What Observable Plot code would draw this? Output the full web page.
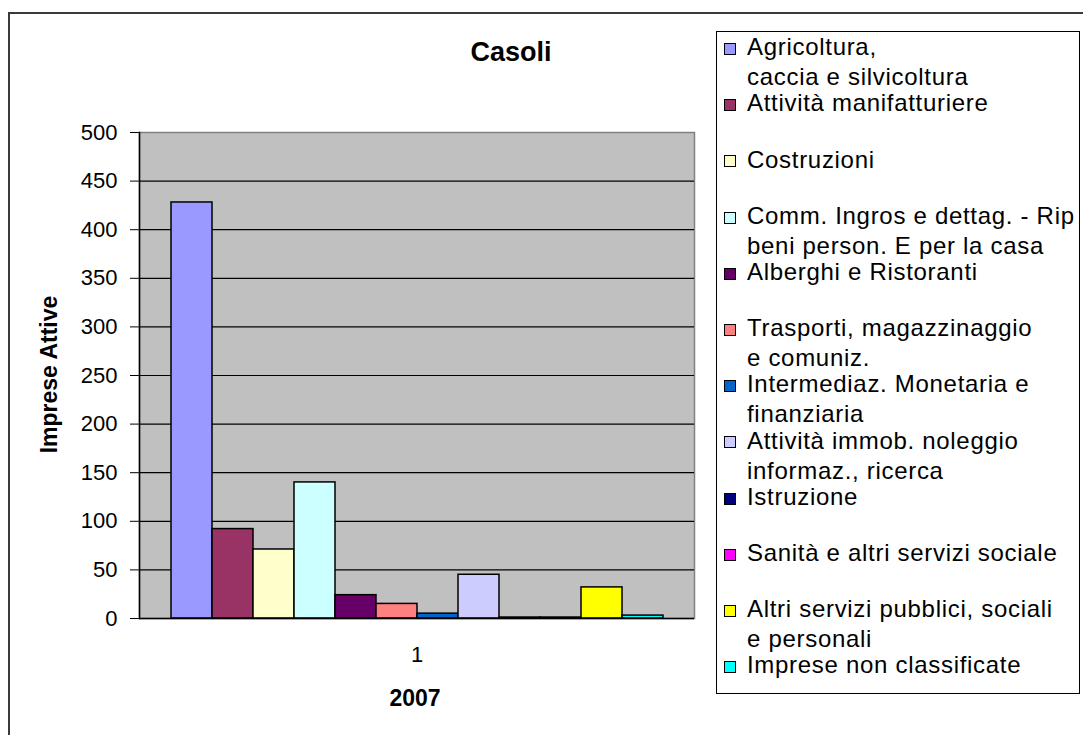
<!DOCTYPE html>
<html>
<head>
<meta charset="utf-8">
<script src="https://cdn.jsdelivr.net/npm/d3@7"></script>
<script src="https://cdn.jsdelivr.net/npm/@observablehq/plot@0.6"></script>
<style>
  html, body { margin: 0; padding: 0; background: #fff; overflow: hidden; }
  #page { position: relative; width: 1083px; height: 735px; overflow: hidden;
          font-family: "Liberation Sans", Arial, sans-serif; color: #000; }
  #page svg { position: absolute; left: 0; top: 0; }
  .abs { position: absolute; white-space: pre; }
</style>
</head>
<body>
<div id="page"></div>
<script>
// ---- data ----
const title = "Casoli";
const yTitle = "Imprese Attive";
const xTitle = "2007";
const years = ["1"];
const categories = [
  "Agricoltura, caccia e silvicoltura",
  "Attività manifatturiere",
  "Costruzioni",
  "Comm. Ingros e dettag. - Rip beni person. E per la casa",
  "Alberghi e Ristoranti",
  "Trasporti, magazzinaggio e comuniz.",
  "Intermediaz. Monetaria e finanziaria",
  "Attività immob. noleggio informaz., ricerca",
  "Istruzione",
  "Sanità e altri servizi sociale",
  "Altri servizi pubblici, sociali e personali",
  "Imprese non classificate"
];
const legendLabels = [
  "Agricoltura,\ncaccia e silvicoltura",
  "Attività manifatturiere",
  "Costruzioni",
  "Comm. Ingros e dettag. - Rip\nbeni person. E per la casa",
  "Alberghi e Ristoranti",
  "Trasporti, magazzinaggio\ne comuniz.",
  "Intermediaz. Monetaria e\nfinanziaria",
  "Attività immob. noleggio\ninformaz., ricerca",
  "Istruzione",
  "Sanità e altri servizi sociale",
  "Altri servizi pubblici, sociali\ne personali",
  "Imprese non classificate"
];
const values = [428, 92, 71, 140, 24, 15, 5, 45, 1, 1, 32, 3];
const colors = ["#9999FF", "#993366", "#FFFFCC", "#CCFFFF", "#660066", "#FF8080",
                "#0066CC", "#CCCCFF", "#000080", "#FF00FF", "#FFFF00", "#00FFFF"];
const yTicks = [0, 50, 100, 150, 200, 250, 300, 350, 400, 450, 500];

const data = categories.map((c, i) => ({year: years[0], category: c, value: values[i]}));

// ---- layout ----
const W = 1083, H = 735;
const plotL = 139, plotR = 694, plotT = 132, plotB = 618;

const page = document.getElementById("page");

// outer chart frame
const outer = document.createElement("div");
outer.className = "abs";
Object.assign(outer.style, {left: "8px", top: "12px", width: "1200px", height: "900px",
  border: "2px solid #3a3a3a", boxSizing: "border-box"});
page.appendChild(outer);

const chart = Plot.plot({
  width: W, height: H,
  marginLeft: plotL, marginRight: W - plotR, marginTop: plotT, marginBottom: H - plotB,
  style: {fontFamily: "'Liberation Sans', Arial, sans-serif", fontSize: "22px", background: "transparent", color: "#000"},
  fx: {domain: years, padding: 0, axis: "bottom", label: null, tickSize: 0, tickPadding: 28},
  x: {domain: categories, paddingInner: 0, paddingOuter: 0.75, axis: null},
  y: {domain: [0, 500], ticks: yTicks, tickSize: 9, tickPadding: 13, label: null},
  color: {domain: categories, range: colors},
  marks: [
    Plot.frame({fill: "#C0C0C0", stroke: "#808080", strokeWidth: 1.5}),
    Plot.ruleY(yTicks.filter(d => d > 0 && d < 500), {stroke: "#000", strokeWidth: 1.2}),
    Plot.barY(data, {fx: "year", x: "category", y: "value", fill: "category", stroke: "#000", strokeWidth: 1.5}),
    Plot.frame({anchor: "left", stroke: "#000", strokeWidth: 1.5}),
    Plot.ruleY([0], {stroke: "#000", strokeWidth: 1.5})
  ]
});
page.appendChild(chart);

// helper for text placed by baseline
function place(text, {x, baseline, size, weight = "normal", anchor = "middle"}) {
  const d = document.createElement("div");
  d.className = "abs";
  d.textContent = text;
  const top = baseline - 0.8465 * size;
  Object.assign(d.style, {fontSize: size + "px", fontWeight: weight, lineHeight: size + "px", top: top + "px"});
  if (anchor === "middle") {
    Object.assign(d.style, {left: (x - 300) + "px", width: "600px", textAlign: "center"});
  } else {
    d.style.left = x + "px";
  }
  page.appendChild(d);
  return d;
}

place(title, {x: 511, baseline: 62, size: 27, weight: "bold"});
place(xTitle, {x: 415, baseline: 706, size: 23, weight: "bold"});

// rotated y title
const yt = document.createElement("div");
yt.className = "abs";
yt.textContent = yTitle;
Object.assign(yt.style, {left: (49 - 150) + "px", top: (374 - 11.5) + "px", width: "300px", height: "23px",
  lineHeight: "23px", fontSize: "23px", fontWeight: "bold", textAlign: "center",
  transform: "rotate(-90deg)", transformOrigin: "50% 50%"});
page.appendChild(yt);

// legend
const lg = document.createElement("div");
lg.className = "abs";
Object.assign(lg.style, {left: "716px", top: "31px", width: "364px", height: "663px",
  border: "1.5px solid #000", boxSizing: "border-box", background: "#fff"});
page.appendChild(lg);

const legStart = 49, legStep = 56.2, lineH = 30, legSize = 24;
legendLabels.forEach((lab, i) => {
  const cy = legStart + i * legStep;
  const sw = document.createElement("div");
  sw.className = "abs";
  Object.assign(sw.style, {left: "724px", top: (cy - 6) + "px", width: "12px", height: "12px",
    background: colors[i], border: "1.5px solid #000", boxSizing: "border-box"});
  page.appendChild(sw);
  const t = document.createElement("div");
  t.className = "abs";
  t.textContent = lab;
  const baseline = cy + 6.5;
  const top = baseline - ((lineH - legSize * 1.117) / 2 + 0.905 * legSize);
  Object.assign(t.style, {left: "747px", top: top + "px", fontSize: legSize + "px",
    lineHeight: lineH + "px", letterSpacing: "0.7px"});
  page.appendChild(t);
});
</script>
</body>
</html>
